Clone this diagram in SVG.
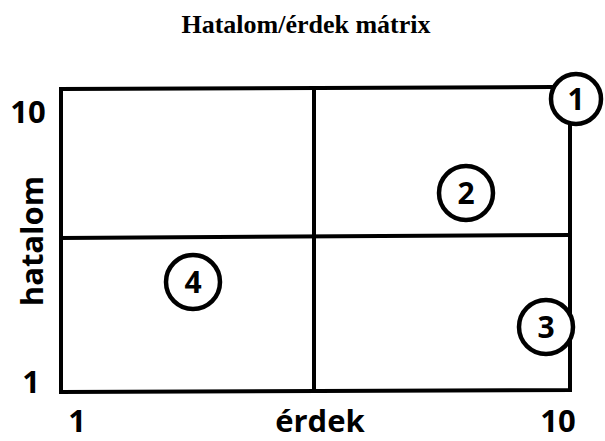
<svg xmlns="http://www.w3.org/2000/svg" width="605" height="441" viewBox="0 0 605 441">
<style>
.ln{stroke:#000;stroke-width:4;fill:none;stroke-linecap:square}
.c{fill:#fff;stroke:#000;stroke-width:4.5}
.n{font-family:"Open Sans","Liberation Sans",Arial,sans-serif;font-weight:bold;font-size:30px;text-anchor:middle;fill:#000}
.ax{font-family:"Open Sans","Liberation Sans",Arial,sans-serif;font-weight:bold;font-size:31px;text-anchor:middle;fill:#000}
.t{font-family:"Liberation Serif","Times New Roman",serif;font-weight:bold;font-size:26px;text-anchor:middle;fill:#000}
</style>
<rect width="605" height="441" fill="#fff"/>
<text class="t" x="306" y="33">Hatalom/érdek mátrix</text>
<g id="connectors">
<polyline class="ln" points="551,87 61,89 61,392 570,390 570,126"/>
<line class="ln" x1="314" y1="88" x2="314" y2="391"/>
<line class="ln" x1="61" y1="238" x2="570" y2="235"/>
</g>
<g id="n1"><circle class="c" cx="576" cy="99" r="25"/><text class="n" x="576" y="110">1</text></g>
<g id="n2"><circle class="c" cx="466" cy="193" r="27"/><text class="n" x="466" y="204">2</text></g>
<g id="n3"><circle class="c" cx="546" cy="327" r="27"/><text class="n" x="546" y="338">3</text></g>
<g id="n4"><circle class="c" cx="193" cy="282" r="27"/><text class="n" x="193" y="293">4</text></g>
<g id="labels">
<text class="ax" x="28" y="123">10</text>
<text class="ax" x="31" y="393">1</text>
<text class="ax" x="77" y="432">1</text>
<text class="ax" x="558" y="432">10</text>
<text class="ax" x="320" y="432" font-size="33">érdek</text>
<text class="ax" transform="translate(43,241) rotate(-90)" x="0" y="0" font-size="33">hatalom</text>
</g>
</svg>
